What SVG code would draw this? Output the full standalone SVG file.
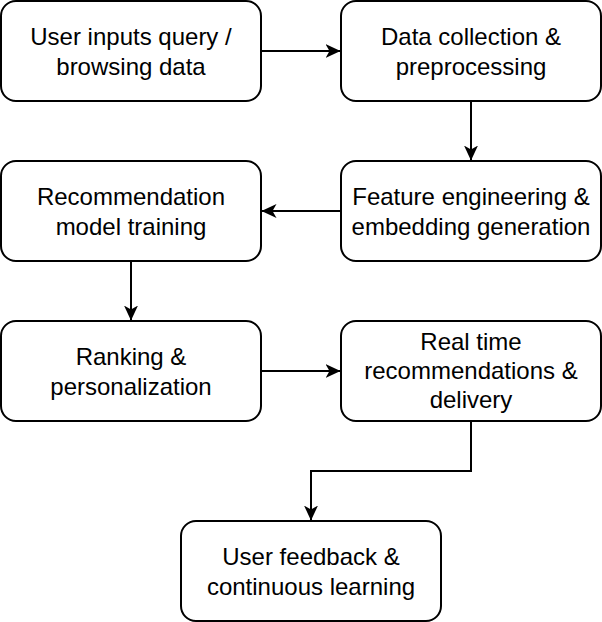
<svg xmlns="http://www.w3.org/2000/svg" width="602" height="622" viewBox="0 0 602 622">
<defs>
<marker id="arr" viewBox="0 0 15 14" refX="14.5" refY="7" markerWidth="15" markerHeight="14" markerUnits="userSpaceOnUse" orient="auto">
<path d="M0,0 L15,7 L0,14 L4,7 Z" fill="#000"/>
</marker>
<style>
.box{fill:#fff;stroke:#000;stroke-width:2}
.t{font-family:"Liberation Sans",Arial,Helvetica,sans-serif;font-size:24px;fill:#000;text-anchor:middle}
.c{fill:none;stroke:#000;stroke-width:2;marker-end:url(#arr)}
</style>
</defs>
<rect width="602" height="622" fill="#fff"/>
<g id="connectors">
<path class="c" d="M261,51 L340,51"/>
<path class="c" d="M471,101 L471,160"/>
<path class="c" d="M341,211 L262,211"/>
<path class="c" d="M131,261 L131,320"/>
<path class="c" d="M261,371 L340,371"/>
<path class="c" d="M471,421 L471,471 L311,471 L311,520"/>
</g>
<g id="n1"><rect class="box" x="1" y="1" width="260" height="100" rx="15"/>
<text class="t" x="131" y="45">User inputs query /</text><text class="t" x="131" y="75">browsing data</text></g>
<g id="n2"><rect class="box" x="341" y="1" width="260" height="100" rx="15"/>
<text class="t" x="471" y="45">Data collection &amp;</text><text class="t" x="471" y="75">preprocessing</text></g>
<g id="n3"><rect class="box" x="341" y="161" width="260" height="100" rx="15"/>
<text class="t" x="471" y="205">Feature engineering &amp;</text><text class="t" x="471" y="235">embedding generation</text></g>
<g id="n4"><rect class="box" x="1" y="161" width="260" height="100" rx="15"/>
<text class="t" x="131" y="205">Recommendation</text><text class="t" x="131" y="235">model training</text></g>
<g id="n5"><rect class="box" x="1" y="321" width="260" height="100" rx="15"/>
<text class="t" x="131" y="365">Ranking &amp;</text><text class="t" x="131" y="395">personalization</text></g>
<g id="n6"><rect class="box" x="341" y="321" width="260" height="100" rx="15"/>
<text class="t" x="471" y="350">Real time</text><text class="t" x="471" y="379">recommendations &amp;</text><text class="t" x="471" y="408">delivery</text></g>
<g id="n7"><rect class="box" x="181" y="521" width="260" height="100" rx="15"/>
<text class="t" x="311" y="565">User feedback &amp;</text><text class="t" x="311" y="595">continuous learning</text></g>
</svg>
